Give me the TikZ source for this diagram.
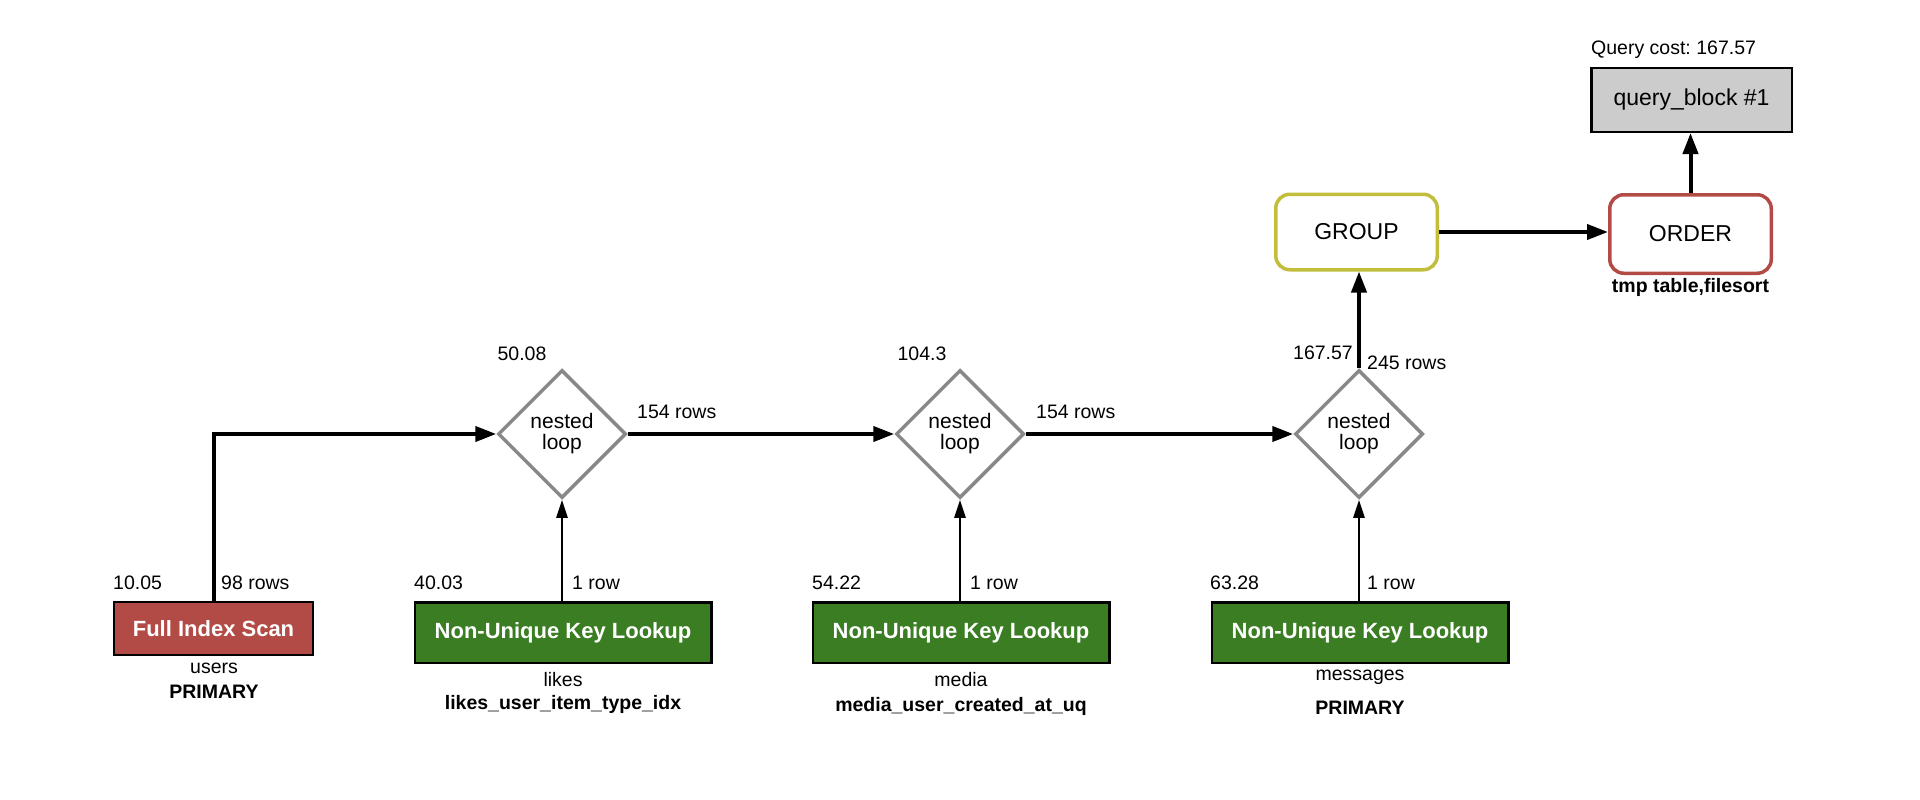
\documentclass[tikz,border=0pt]{standalone}
\usepackage{fontspec}
\setmainfont{Liberation Sans}
\frenchspacing
\usetikzlibrary{shapes.geometric,arrows.meta}
\definecolor{scanred}{HTML}{B24B45}
\definecolor{lookgreen}{HTML}{3B7D23}
\definecolor{loopgray}{HTML}{888888}
\definecolor{groupolive}{HTML}{C2BE3C}
\definecolor{blockgray}{HTML}{CCCCCC}

\begin{document}
\begin{tikzpicture}[x=1pt,y=-1pt,
  lbl/.style={font=\fontsize{19.5}{21}\selectfont, inner sep=0pt},
  lblb/.style={font=\fontsize{19.5}{21}\selectfont\bfseries, inner sep=0pt},
  scanbox/.style={rectangle, draw=black, line width=2.5pt, fill=scanred,
    text=white, font=\fontsize{22}{24}\selectfont\bfseries,
    minimum width=199, minimum height=53, inner sep=0pt},
  keybox/.style={rectangle, draw=black, line width=2.5pt, fill=lookgreen,
    text=white, font=\fontsize{22}{24}\selectfont\bfseries,
    minimum width=296.5, minimum height=60.5, inner sep=0pt},
  loopnode/.style={diamond, draw=loopgray, line width=3.5pt, fill=white,
    minimum width=128, minimum height=128, inner sep=0pt, align=center,
    font=\fontsize{21}{21}\selectfont},
  opbox/.style={rectangle, rounded corners=14pt, line width=3.5pt, fill=white,
    minimum width=161.5, minimum height=75.5, inner sep=0pt,
    font=\fontsize{23}{25}\selectfont},
  blockbox/.style={rectangle, draw=black, line width=2.5pt, fill=blockgray,
    minimum width=200.5, minimum height=63.5, inner sep=0pt,
    font=\fontsize{23}{25}\selectfont},
  thickarrow/.style={line width=4pt, -{Triangle[length=21pt,width=15pt]}},
  thinarrow/.style={line width=2.5pt, -{Triangle[length=18pt,width=11pt]}}
]
\useasboundingbox (0,0) rectangle (1920,800);

% operator nodes
\node[scanbox] (fis) at (213.5,628.5) {Full Index Scan};
\node[loopnode] (d1) at (562,434) {nested\\loop};
\node[loopnode] (d2) at (960,434) {nested\\loop};
\node[loopnode] (d3) at (1359,434) {nested\\loop};
\node[keybox] (k1) at (563,632.5) {Non-Unique Key Lookup};
\node[keybox] (k2) at (961,632.5) {Non-Unique Key Lookup};
\node[keybox] (k3) at (1360,632.5) {Non-Unique Key Lookup};
\node[opbox, draw=groupolive] (grp) at (1356.5,232) {GROUP};
\node[opbox, draw=scanred, minimum height=78.5] (ord) at (1690.5,234) {ORDER};
\node[blockbox] (qb) at (1691.5,100) {query\_block \#1};

% connectors
\draw[thickarrow] (fis.north) |- (d1.west);
\draw[thickarrow] (d1.east) -- (d2.west);
\draw[thickarrow] (d2.east) -- (d3.west);
\draw[thinarrow] (k1.north -| d1.south) -- (d1.south);
\draw[thinarrow] (k2.north -| d2.south) -- (d2.south);
\draw[thinarrow] (k3.north -| d3.south) -- (d3.south);
\draw[thickarrow] (d3.north) -- (d3.north |- grp.south);
\draw[thickarrow] (grp.east) -- (grp.east -| ord.west);
\draw[thickarrow] (ord.north) -- (ord.north |- qb.south);

% users scan
\node[lbl, anchor=west] (c1) at (113,583) {10.05};
\node[lbl, anchor=west] (r1) at (221,583) {98 rows};
\node[lbl] (t1) at (214,668) {users};
\node[lblb] (i1) at (214,692) {PRIMARY};

% likes join
\node[lbl] (c2) at (522,354) {50.08};
\node[lbl, anchor=west] (r2) at (637,412) {154 rows};
\node[lbl, anchor=west] (c3) at (414,583) {40.03};
\node[lbl, anchor=west] (r3) at (572,583) {1 row};
\node[lbl] (t2) at (563,680) {likes};
\node[lblb] (i2) at (563,704) {likes\_user\_item\_type\_idx};

% media join
\node[lbl] (c4) at (922,354) {104.3};
\node[lbl, anchor=west] (r4) at (1036,412) {154 rows};
\node[lbl, anchor=west] (c5) at (812,583) {54.22};
\node[lbl, anchor=west] (r5) at (970,583) {1 row};
\node[lbl] (t3) at (961,680) {media};
\node[lblb] (i3) at (961,706) {media\_user\_created\_at\_uq};

% messages join
\node[lbl, anchor=east] (c6) at (1353,353) {167.57};
\node[lbl, anchor=west] (r6) at (1367,363) {245 rows};
\node[lbl, anchor=west] (c7) at (1210,583) {63.28};
\node[lbl, anchor=west] (r7) at (1367,583) {1 row};
\node[lbl] (t4) at (1360,677) {messages};
\node[lblb] (i4) at (1360,708) {PRIMARY};

% query block
\node[lblb] (fs) at (1690.5,287) {tmp table,filesort};
\node[lbl, anchor=west] (qc) at (1591,50) {Query cost: 167.57};
\end{tikzpicture}
\end{document}
